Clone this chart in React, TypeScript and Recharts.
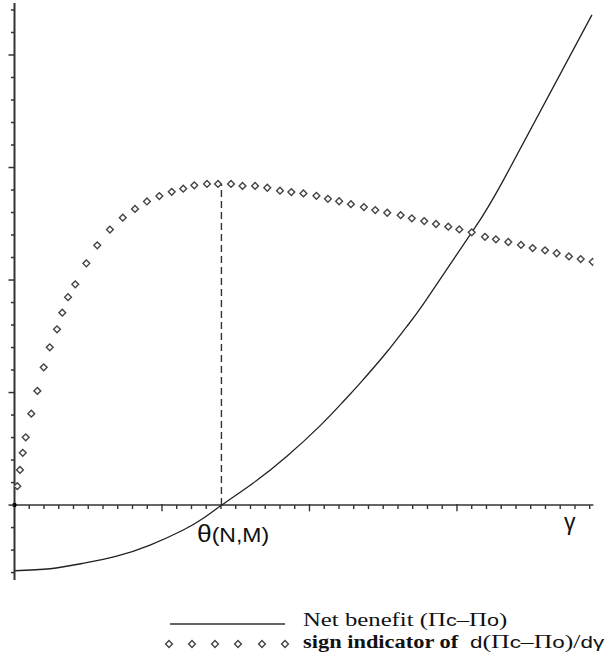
import React from "react";
import {
  ComposedChart,
  Line,
  Scatter,
  XAxis,
  YAxis,
  ReferenceLine,
  ReferenceDot,
} from "recharts";

// net benefit curve (Πc − Πo) against γ
const benefitPoints = [
  { x: 0, y: -2.92 },
  { x: 2.41, y: -2.83 },
  { x: 4.64, y: -2.59 },
  { x: 6.93, y: -2.27 },
  { x: 9.19, y: -1.78 },
  { x: 11.44, y: -1.11 },
  { x: 12.8, y: -0.59 },
  { x: 14.05, y: 0 },
  { x: 16.19, y: 0.98 },
  { x: 18.45, y: 2.16 },
  { x: 20.71, y: 3.52 },
  { x: 22.29, y: 4.6 },
  { x: 23.42, y: 5.41 },
  { x: 25.23, y: 6.79 },
  { x: 26.59, y: 7.93 },
  { x: 27.95, y: 9.15 },
  { x: 31.0, y: 12.12 },
  { x: 33.14, y: 14.43 },
  { x: 39.15, y: 21.78 },
];

// sign indicator of d(Πc − Πo)/dγ
const signPoints = [
  { x: 0.19, y: 0.84 }, { x: 0.37, y: 1.56 }, { x: 0.56, y: 2.32 },
  { x: 0.76, y: 3.01 }, { x: 1.14, y: 4.06 }, { x: 1.55, y: 5.07 },
  { x: 1.98, y: 6.12 }, { x: 2.39, y: 7.01 }, { x: 2.88, y: 7.81 },
  { x: 3.24, y: 8.55 }, { x: 3.63, y: 9.24 }, { x: 4.12, y: 9.81 },
  { x: 4.87, y: 10.74 }, { x: 5.61, y: 11.54 }, { x: 6.47, y: 12.24 },
  { x: 7.34, y: 12.77 }, { x: 8.17, y: 13.16 }, { x: 8.98, y: 13.49 },
  { x: 9.82, y: 13.73 }, { x: 10.66, y: 13.92 }, { x: 11.44, y: 14.06 },
  { x: 12.19, y: 14.21 }, { x: 13.05, y: 14.27 }, { x: 13.8, y: 14.27 },
  { x: 14.68, y: 14.27 }, { x: 15.46, y: 14.18 }, { x: 16.31, y: 14.18 },
  { x: 17.14, y: 14.1 }, { x: 18.0, y: 13.97 }, { x: 18.77, y: 13.91 },
  { x: 19.59, y: 13.85 }, { x: 20.47, y: 13.74 }, { x: 21.25, y: 13.61 },
  { x: 22.01, y: 13.5 }, { x: 22.81, y: 13.37 }, { x: 23.69, y: 13.24 },
  { x: 24.46, y: 13.11 }, { x: 25.27, y: 12.99 }, { x: 26.18, y: 12.88 },
  { x: 26.94, y: 12.74 }, { x: 27.78, y: 12.62 }, { x: 28.58, y: 12.49 },
  { x: 29.41, y: 12.37 }, { x: 30.16, y: 12.25 }, { x: 31.0, y: 12.12 },
  { x: 31.9, y: 11.92 }, { x: 32.64, y: 11.81 }, { x: 33.48, y: 11.69 },
  { x: 34.34, y: 11.56 }, { x: 35.13, y: 11.42 }, { x: 35.97, y: 11.32 },
  { x: 36.76, y: 11.19 }, { x: 37.59, y: 11.05 }, { x: 38.39, y: 10.93 },
  { x: 39.2, y: 10.81 },
];

const thetaX = 14.03;
const peakY = 14.27;

const xTicks = [
  1, 2, 3, 4, 5, 6, 7, 8, 9, 10, 11, 12, 13, 14, 15, 16, 17, 18, 19, 20,
  21, 22, 23, 24, 25, 26, 27, 28, 29, 30, 31, 32, 33, 34, 35, 36, 37, 38, 39,
];
const yTicks = [
  -3, -2, -1, 0, 1, 2, 3, 4, 5, 6, 7, 8, 9, 10, 11, 12, 13, 14, 15, 16, 17,
  18, 19, 20, 21, 22,
];

const ink = "#333";
const serif = "'Liberation Serif', 'DejaVu Serif', serif";
const sans = "'Liberation Sans', Arial, sans-serif";

const Diamond = (props: any) => {
  const { cx, cy } = props;
  if (cx == null || cy == null) return null;
  const r = 3.4;
  return (
    <path
      d={`M${cx},${cy - r}L${cx + r},${cy}L${cx},${cy + r}L${cx - r},${cy}Z`}
      fill="#fff"
      stroke="#444"
      strokeWidth={1.4}
    />
  );
};

const YTick = (props: any) => {
  const { x, y, payload } = props;
  const len = payload.value % 5 === 0 ? 6 : 3.5;
  return <line x1={x - len} x2={x} y1={y} y2={y} stroke={ink} strokeWidth={1.5} />;
};

export default function App() {
  return (
    <div style={{ position: "absolute", left: 0, top: 0, width: 609, height: 661, background: "#fff" }}>
      <ComposedChart
        width={609}
        height={661}
        margin={{ top: 3, right: 15.6, left: 0.5, bottom: 81 }}
      >
        <XAxis dataKey="x" type="number" domain={[0, 39.25]} allowDataOverflow hide />
        <YAxis
          dataKey="y"
          type="number"
          domain={[-3.33, 22.31]}
          allowDataOverflow
          ticks={yTicks}
          interval={0}
          width={14}
          tickSize={0}
          tickMargin={0}
          tickLine={false}
          tick={<YTick />}
          axisLine={{ stroke: ink, strokeWidth: 2 }}
        />
        <ReferenceLine y={0} stroke={ink} strokeWidth={1.6} />
        {xTicks.map((t) => (
          <ReferenceLine
            key={t}
            segment={[
              { x: t, y: t % 10 === 0 ? 0.05 : 0 },
              { x: t, y: t % 10 === 0 ? -0.28 : -0.18 },
            ]}
            stroke={ink}
            strokeWidth={1.4}
          />
        ))}
        <ReferenceLine
          segment={[
            { x: thetaX, y: 0 },
            { x: thetaX, y: peakY },
          ]}
          stroke={ink}
          strokeWidth={1.4}
          strokeDasharray="7 4"
        />
        <ReferenceDot x={0} y={0} r={2.2} fill="#000" stroke="none" />
        <Line
          data={benefitPoints}
          dataKey="y"
          type="natural"
          stroke="#222"
          strokeWidth={1.3}
          dot={false}
          activeDot={false}
          isAnimationActive={false}
        />
        <Scatter data={signPoints} shape={<Diamond />} isAnimationActive={false} />
      </ComposedChart>
      <svg
        width={609}
        height={661}
        style={{ position: "absolute", left: 0, top: 0, pointerEvents: "none" }}
      >
        <text
          transform="translate(197,542) scale(1.15,1)"
          fontFamily={sans}
          fontSize={20}
          fill="#111"
        >
          <tspan fontSize={23}>θ</tspan>(N,M)
        </text>
        <text x={564} y={530} fontFamily={sans} fontSize={23} fill="#111">
          γ
        </text>
        <line x1={170} x2={285} y1={624} y2={624} stroke={ink} strokeWidth={1.5} />
        <text
          transform="translate(303,626) scale(1.27,1)"
          fontFamily={serif}
          fontSize={19.5}
          fill="#111"
        >
          Net benefit (Π<tspan fontFamily={sans} fontSize={17}>c</tspan>–Π
          <tspan fontFamily={sans} fontSize={17}>o</tspan>)
        </text>
        {[169, 192, 215, 238, 262, 285].map((cx) => (
          <Diamond key={cx} cx={cx} cy={644} />
        ))}
        <text
          transform="translate(303,648) scale(1.15,1)"
          fontFamily={serif}
          fontSize={19.5}
          fontWeight="bold"
          fill="#111"
        >
          sign indicator of
        </text>
        <text
          transform="translate(470,648) scale(1.32,1)"
          fontFamily={serif}
          fontSize={19.5}
          fill="#111"
        >
          <tspan fontFamily={sans} fontSize={17}>d</tspan>(Π
          <tspan fontFamily={sans} fontSize={17}>c</tspan>–Π
          <tspan fontFamily={sans} fontSize={17}>o</tspan>)/
          <tspan fontFamily={sans} fontSize={17}>dγ</tspan>
        </text>
      </svg>
    </div>
  );
}
